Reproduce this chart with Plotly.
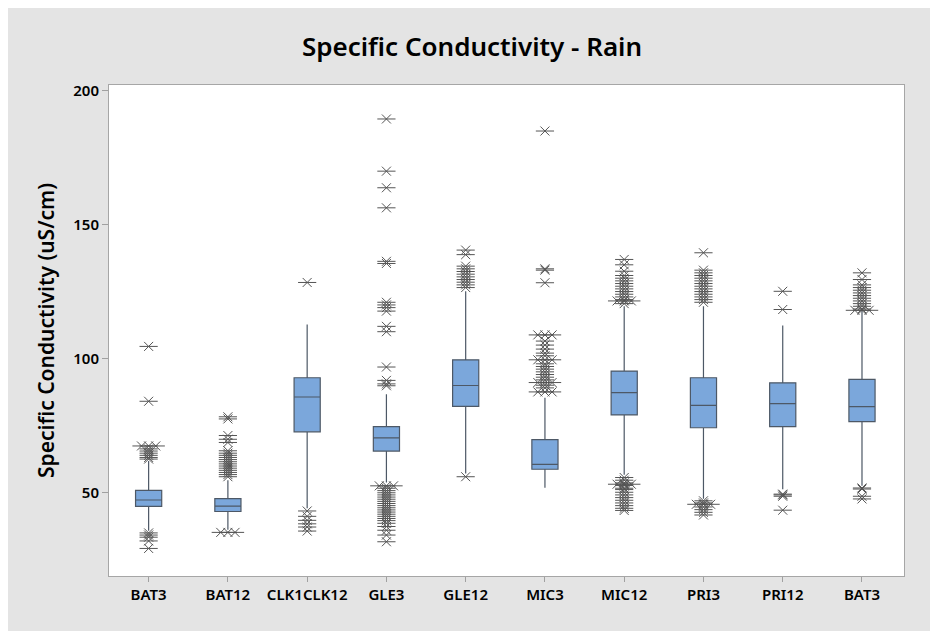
import plotly.graph_objects as go
from collections import Counter

# ---------------- data ----------------
categories = ["BAT3", "BAT12", "CLK1CLK12", "GLE3", "GLE12", "MIC3", "MIC12", "PRI3", "PRI12", "BAT3"]
q1 = [44.7, 42.8, 72.6, 65.4, 82.1, 58.6, 78.9, 74.1, 74.5, 76.4]
median = [47.1, 44.8, 85.6, 70.3, 89.9, 60.4, 87.2, 82.5, 83.1, 82.0]
q3 = [50.7, 47.6, 92.8, 74.5, 99.5, 69.7, 95.3, 92.8, 90.9, 92.2]
whisker_low = [35.6, 36.0, 44.0, 53.6, 57.0, 51.7, 56.5, 47.6, 51.1, 52.4]
whisker_high = [61.7, 54.5, 112.7, 86.6, 125.1, 85.3, 119.5, 119.5, 112.3, 117.7]

out_bat3 = [104.5, 84.0, 67.3, 67.3, 67.3, 66.2, 65.4, 64.6, 63.8, 63.0, 62.4,
            34.8, 34.0, 33.2, 31.8, 29.0]
out_bat12 = [78.2, 77.4, 71.2, 69.8, 68.6, 65.5, 64.6, 63.8, 63.0, 62.2, 61.4, 60.6,
             59.8, 59.0, 58.2, 57.4, 56.6, 55.8, 35.0, 35.0, 35.0]
out_clk = [128.4, 43.0, 41.0, 39.5, 38.2, 37.0, 35.5]
out_gle3 = [189.5, 170.0, 163.8, 156.3, 136.3, 135.5, 121.0, 120.0, 119.0, 117.7, 112.0,
            110.0, 96.8, 91.8, 90.5, 89.8,
            52.4, 52.4, 52.4, 51.5, 50.6, 49.8, 49.0, 48.2, 47.4, 46.6, 45.8, 45.0, 44.2,
            43.4, 42.6, 41.8, 41.0, 40.2, 39.4, 38.4, 37.2, 35.8, 34.0, 31.5]
out_gle12 = [140.5, 138.8, 134.5, 133.5, 132.5, 131.5, 130.5, 129.5, 128.5, 127.5, 126.5, 55.8]
out_mic3 = [185.0, 133.5, 133.0, 128.3, 108.8, 108.8, 108.8, 106.5, 105.0, 103.5, 102.0,
            101.0, 99.5, 99.5, 99.5, 98.0, 97.0, 96.0, 95.0, 94.0, 93.0, 92.0, 91.0, 91.0,
            91.0, 90.0, 89.0, 87.5, 87.5, 87.5]
out_mic12 = [137.0, 135.0, 132.6, 131.0, 130.0, 129.0, 128.0, 127.0, 126.0, 125.0, 124.0,
             123.0, 122.0, 121.5, 121.5, 121.5, 120.5,
             55.5, 54.5, 53.5, 53.0, 53.0, 53.0, 52.5, 51.5, 51.0, 50.0, 49.0, 48.0, 47.0,
             46.0, 45.0, 44.0, 43.2]
out_pri3 = [139.5, 133.0, 132.0, 131.0, 130.0, 129.0, 128.0, 127.0, 126.0, 125.0, 124.0,
            123.0, 122.0, 121.0,
            46.8, 46.0, 45.5, 45.5, 45.5, 44.5, 43.5, 42.5, 41.5]
out_pri12 = [125.1, 118.3, 49.3, 49.0, 48.5, 43.3]
out_bat3b = [132.0, 129.5, 127.5, 126.5, 125.5, 124.5, 123.5, 122.5, 121.5, 120.5, 119.5,
             118.5, 118.0, 118.0, 118.0, 51.6, 51.2, 48.5, 47.5]
outliers = [out_bat3, out_bat12, out_clk, out_gle3, out_gle12,
            out_mic3, out_mic12, out_pri3, out_pri12, out_bat3b]

y_ticks = [50, 100, 150, 200]

# ---------------- layout constants ----------------
W, H = 938, 631
L, R, T, B = 101, 42, 77, 63
BOX_FILL = "#7ba7db"
BOX_LINE = "#4d5866"
STAR = "#555555"
FONT = "Noto Sans"

positions = list(range(1, len(categories) + 1))

fig = go.Figure()
for i, pos in enumerate(positions):
    fig.add_trace(go.Box(
        x=[pos], q1=[q1[i]], median=[median[i]], q3=[q3[i]],
        lowerfence=[whisker_low[i]], upperfence=[whisker_high[i]],
        width=0.33, whiskerwidth=0, boxpoints=False,
        fillcolor=BOX_FILL, line=dict(color=BOX_LINE, width=1.2),
        showlegend=False, hoverinfo="skip",
    ))

# outliers: tied values are dodged side by side (as Minitab does)
xs, ys = [], []
for pos, vals in zip(positions, outliers):
    counts = Counter(vals)
    for v, n in counts.items():
        for k in range(n):
            xs.append(pos + (k - (n - 1) / 2) * 0.09)
            ys.append(v)

fig.add_trace(go.Scatter(x=xs, y=ys, mode="markers", showlegend=False, hoverinfo="skip",
                         marker=dict(symbol="x-thin-open", size=9, color=STAR,
                                     line=dict(color=STAR, width=1))))
fig.add_trace(go.Scatter(x=xs, y=ys, mode="markers", showlegend=False, hoverinfo="skip",
                         marker=dict(symbol="line-ew-open", size=13, color=STAR,
                                     line=dict(color=STAR, width=1))))

fig.update_layout(
    width=W, height=H,
    margin=dict(l=L, r=R, t=T, b=B),
    paper_bgcolor="#e4e4e4", plot_bgcolor="white",
    title=dict(text="Specific Conductivity - Rain", x=464 / W, xref="container", xanchor="center",
               y=1 - 39 / H, yref="container", yanchor="middle",
               font=dict(family=FONT, size=26, color="black", weight=600)),
    font=dict(family=FONT, color="black"),
)
fig.update_xaxes(range=[0.5, 10.53], tickmode="array", tickvals=positions, ticktext=categories,
                 ticks="outside", ticklen=5, tickcolor="#a0a0a0", showgrid=False, zeroline=False,
                 showline=True, linecolor="#a6a6a6", linewidth=1, mirror=True,
                 tickfont=dict(family=FONT, size=15, color="black", weight=600))
fig.update_yaxes(range=[18.7, 202.2], tickmode="array", tickvals=y_ticks,
                 ticks="outside", ticklen=6, tickcolor="#a0a0a0", showgrid=False, zeroline=False,
                 showline=True, linecolor="#a6a6a6", linewidth=1, mirror=True,
                 tickfont=dict(family=FONT, size=15, color="black", weight=600),
                 title=dict(text="Specific Conductivity (uS/cm)", standoff=12,
                            font=dict(family=FONT, size=21, color="black", weight=600)))

fig.write_html("out.html")
